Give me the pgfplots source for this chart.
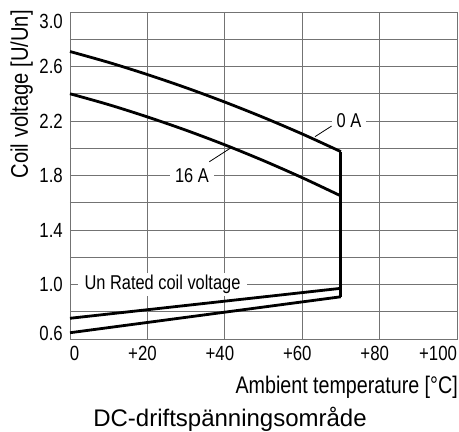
\documentclass[border=0pt]{standalone}
\usepackage{fontspec}
\usepackage{pgfplots}
\pgfplotsset{compat=1.18}
\setmainfont{Liberation Sans}
\newfontfamily\condfont[FakeStretch=0.82]{Liberation Sans}
\newfontfamily\ycondfont[FakeStretch=0.84]{Liberation Sans}
\newfontfamily\titlefam{Liberation Sans}
\newcommand\tickfont{\condfont\fontsize{20.5}{24}\selectfont}
\newcommand\lblfont{\condfont\fontsize{20}{24}\selectfont}
\newcommand\xlabfont{\condfont\fontsize{24}{28}\selectfont}
\newcommand\ylabfont{\ycondfont\fontsize{24}{28}\selectfont}
\newcommand\titlefont{\titlefam\fontsize{24}{28}\selectfont}
\definecolor{gridc}{gray}{0.45}
\begin{document}
\begin{tikzpicture}
\begin{axis}[
  scale only axis, width=387pt, height=327pt,
  xmin=0, xmax=100, ymin=0.6, ymax=3.0,
  xtick={0,20,40,60,80,100},
  xticklabels={\rlap{0},\llap{+}20,\llap{+}40,\llap{+}60,\llap{+}80,\llap{+100}},
  ytick={0.6,1.0,1.4,1.8,2.2,2.6,3.0},
  yticklabels={,1.0,1.4,1.8,2.2,2.6,},
  minor ytick={0.8,1.2,1.6,2.0,2.4,2.8},
  grid=both,
  major grid style={gridc, line width=0.8pt},
  minor grid style={gridc, line width=0.8pt},
  axis line style={gridc, line width=0.8pt},
  major tick length=0pt, minor tick length=0pt,
  tick style={draw=none},
  xticklabel style={anchor=north, inner sep=0pt, yshift=-7pt, font=\tickfont},
  yticklabel style={anchor=east, inner sep=0pt, xshift=-7pt, font=\tickfont},
  clip=false,
]
% 0 A curve
\addplot[black, line width=2.8pt, smooth] coordinates {
 (0,2.71) (10,2.630) (20,2.541) (30,2.444) (40,2.339) (50,2.226) (60,2.105) (70,1.975)};
% vertical drop at 70 C
\addplot[black, line width=2.8pt] coordinates {(70,1.975) (70,0.91)};
% 16 A curve
\addplot[black, line width=2.8pt, smooth] coordinates {
 (0,2.40) (10,2.320) (20,2.230) (30,2.132) (40,2.025) (50,1.909) (60,1.784) (70,1.65)};
% lower lines
\addplot[black, line width=2.8pt] coordinates {(0,0.752) (70,0.972)};
\addplot[black, line width=2.8pt] coordinates {(0,0.646) (70,0.91)};
% leaders
\draw[black, line width=0.8pt] (axis cs:63.3,2.085) -- (axis cs:67.6,2.163);
\draw[black, line width=0.8pt] (axis cs:36.0,1.901) -- (axis cs:41.8,2.007);
% labels
\node[fill=white, inner xsep=5pt, inner ysep=2pt, font=\lblfont] at (axis cs:72.1,2.2) {0 A};
\node[fill=white, inner xsep=5pt, inner ysep=2pt, font=\lblfont] at (axis cs:31.5,1.8) {16 A};
\node[fill=white, inner xsep=7pt, inner ysep=2pt, font=\lblfont] at (axis cs:23.9,1.0) {Un Rated coil voltage};
% end y tick labels
\node[anchor=east, inner sep=0pt, xshift=-7pt, yshift=6pt, font=\tickfont] at (axis cs:0,0.6) {0.6};
\node[anchor=east, inner sep=0pt, xshift=-7pt, yshift=-9.7pt, font=\tickfont] at (axis cs:0,3.0) {3.0};
\end{axis}
\node[rotate=90, anchor=south east, inner sep=0pt, font=\ylabfont] at ([xshift=-37pt, yshift=2pt]current axis.north west) {Coil voltage [U/Un]};
\node[anchor=north east, inner sep=0pt, font=\xlabfont] at ([yshift=-37pt, xshift=1pt]current axis.south east) {Ambient temperature [°C]};
\node[anchor=base, inner sep=0pt, font=\titlefont] at ([xshift=160pt, yshift=-88pt]current axis.south west) {DC-driftspänningsområde};
\pgfresetboundingbox
\path (current axis.south west) ++(-70pt,-93pt) rectangle ++(459pt,432pt);
\end{tikzpicture}
\end{document}
